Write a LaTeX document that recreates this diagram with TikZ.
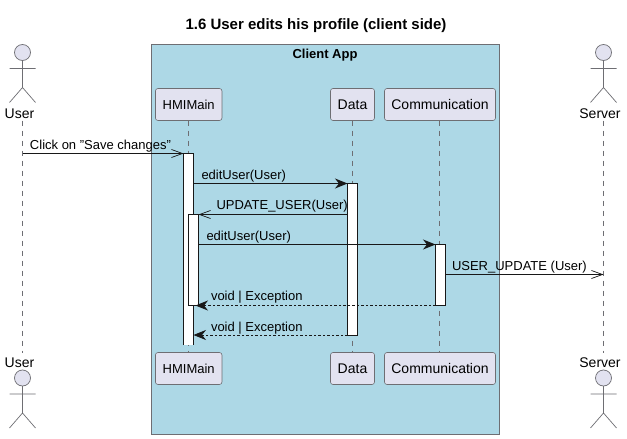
\documentclass[tikz,border=0pt]{standalone}
\usepackage{fontspec}
\setmainfont{Liberation Sans}
\usetikzlibrary{arrows.meta}
\definecolor{partfill}{HTML}{E2E2F0}
\definecolor{partline}{HTML}{6E6E73}
\definecolor{boxfill}{HTML}{ADD8E6}
\definecolor{inkline}{HTML}{181818}
\tikzset{
  x=1pt,y=-1pt,
  every node/.style={font=\fontsize{13}{15}\selectfont,text=black,inner sep=0pt,outer sep=0pt},
  part/.style={draw=partline,fill=partfill,line width=0.6pt,rounded corners=2.5pt,minimum height=32pt,anchor=center,font=\fontsize{14}{16}\selectfont},
  actorname/.style={anchor=center,font=\fontsize{14}{16}\selectfont},
  life/.style={draw=partline,line width=0.6pt,dash pattern=on 5pt off 5pt},
  actbar/.style={draw=inkline,fill=white,line width=1pt,minimum width=10pt,anchor=north},
  fillhead/.style={-{Stealth[length=12.5pt,width=10pt,inset=4pt,fill=inkline]}},
  openhead/.style={-{Straight Barb[length=11pt,width=10pt,line width=0.7pt,angle'=40]}},
  msg/.style={draw=inkline,line width=1pt},
  ret/.style={draw=inkline,line width=0.8pt,dash pattern=on 2.5pt off 2pt},
  lab/.style={anchor=west},
  actorline/.style={draw=partline,line width=0.7pt},
}
\newcommand{\stickman}[2]{%
  \draw[actorline,fill=partfill] (#1,#2) circle[radius=8];
  \draw[actorline] (#1,#2+8) -- (#1,#2+35) (#1-13,#2+16) -- (#1+13,#2+16)
    (#1-13,#2+50) -- (#1,#2+35) -- (#1+13,#2+50);}
\begin{document}
\begin{tikzpicture}
\useasboundingbox (0,0) rectangle (627,439);
\fill[white] (0,0) rectangle (627,439);
\node[font=\fontsize{15}{17}\selectfont\bfseries] (title) at (316,26) {1.6 User edits his profile (client side)};
\draw[draw=partline,fill=boxfill,line width=0.8pt] (151.5,44.5) rectangle (499.5,434);
\node[font=\fontsize{13}{15}\selectfont\bfseries] (boxtitle) at (325,55) {Client App};
% participants
\node[part,minimum width=66.5pt,font=\fontsize{13}{15}\selectfont] (hmiT) at (188.7,104.5) {HMIMain};
\node[part,minimum width=44pt] (dataT) at (352.5,104.5) {Data};
\node[part,minimum width=111pt] (commT) at (440,104.5) {Communication};
\node[part,minimum width=66.5pt,font=\fontsize{13}{15}\selectfont] (hmiB) at (188.7,368.5) {HMIMain};
\node[part,minimum width=44pt] (dataB) at (352.5,368.5) {Data};
\node[part,minimum width=111pt] (commB) at (440,368.5) {Communication};
% actors
\stickman{22.5}{52.5}
\stickman{603.5}{52.5}
\stickman{22.5}{378}
\stickman{603.5}{378}
\node[actorname] (userT) at (19.5,113.5) {User};
\node[actorname] (serverT) at (600,113.5) {Server};
\node[actorname] (userB) at (19.5,362.5) {User};
\node[actorname] (serverB) at (600,362.5) {Server};
\coordinate (userTop) at (22.5,120.5);
\coordinate (userBot) at (22.5,353);
\coordinate (serverTop) at (603.5,120.5);
\coordinate (serverBot) at (603.5,353);
% lifelines
\draw[life] (userTop) -- (userBot);
\draw[life] (serverTop) -- (serverBot);
\draw[life] (hmiT.south) -- (hmiB.north);
\draw[life] (dataT.south) -- (dataB.north);
\draw[life] (commT.south -| 439.5,0) -- (commB.north -| 439.5,0);
% activations
\node[actbar,draw=none,minimum height=191.5pt] (hmiA) at (188.5,153.5) {};
\draw[draw=inkline,line width=1pt] (hmiA.south west) -- (hmiA.north west) -- (hmiA.north east) -- (hmiA.south east);
\node[actbar,minimum height=91pt] (hmiC) at (193.5,214.5) {};
\node[actbar,minimum height=151.5pt] (dataA) at (352.5,183.5) {};
\node[actbar,minimum height=61pt] (commA) at (440.5,244.5) {};
% messages
\draw[msg,openhead] (userTop |- hmiA.north west) -- (hmiA.north west);
\draw[msg,fillhead] (hmiA.east |- dataA.north) -- (dataA.north west);
\draw[msg,openhead] (dataA.west |- hmiC.north) -- (hmiC.north east);
\draw[msg,fillhead] (hmiC.east |- commA.north) -- (commA.north west);
\coordinate (commOut) at (commA.east |- 0,274.5);
\draw[msg,openhead] (commOut) -- (serverTop |- commOut);
\draw[ret,fillhead] (commA.south west) -- ([xshift=-3pt]hmiC.south east);
\draw[ret,fillhead] (dataA.south west) -- (hmiA.east |- dataA.south);
% labels
\node[lab] (m1) at (30,146) {Click on "Save changes"};
\node[lab] (m2) at (201.5,176) {editUser(User)};
\node[lab] (m3) at (216.5,206) {UPDATE\_USER(User)};
\node[lab] (m4) at (206.5,237) {editUser(User)};
\node[lab] (m5) at (452,267) {USER\_UPDATE (User)};
\node[lab] (m6) at (211,297) {void | Exception};
\node[lab] (m7) at (211,328) {void | Exception};
\end{tikzpicture}
\end{document}
